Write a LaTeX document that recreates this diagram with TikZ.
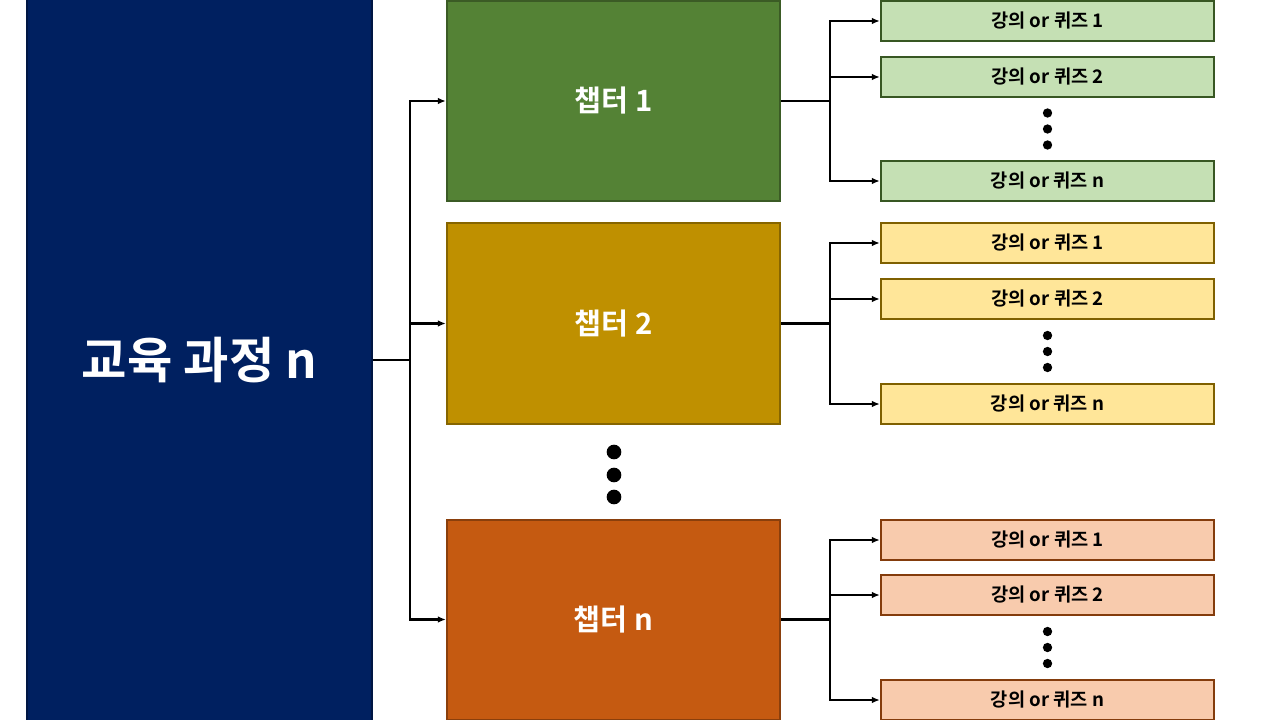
\documentclass[tikz,border=0pt]{standalone}
\usepackage{fontspec}
\setmainfont{Noto Sans CJK KR}[BoldFont={Noto Sans CJK KR Bold}]
\usetikzlibrary{arrows.meta,calc}
\definecolor{navy}{HTML}{002060}
\definecolor{cgA}{HTML}{548235}\definecolor{cgB}{HTML}{BF9000}\definecolor{cgC}{HTML}{C55A11}
\definecolor{lgA}{HTML}{C5E0B4}\definecolor{lgB}{HTML}{FFE699}\definecolor{lgC}{HTML}{F8CBAD}
\definecolor{bdA}{HTML}{385723}\definecolor{bdB}{HTML}{7F6000}\definecolor{bdC}{HTML}{843C0C}
\tikzset{
 chap/.style={draw=#1!70!black,line width=1.5pt,minimum width=250pt,minimum height=150pt,text=white,font=\bfseries\fontsize{22}{26}\selectfont},
 lec/.style={draw,line width=1.5pt,minimum width=250pt,minimum height=30.5pt,font=\bfseries\fontsize{14}{16}\selectfont},
 conn/.style={line width=2pt,-{Latex[length=6pt,width=5pt]}},
 dot/.style={circle,fill=black,inner sep=0pt,minimum size=#1}
}
\begin{document}
\begin{tikzpicture}[x=0.75pt,y=-0.75pt]
\useasboundingbox (0,0) rectangle (1280,720);
\node[draw=navy!70!black,fill=navy,line width=1pt,minimum width=258.75pt,minimum height=542pt,text=white,font=\bfseries\fontsize{37}{44}\selectfont] (main) at (199.5,360) {교육 과정 n};
\node[chap=cgA,fill=cgA] (c1) at (613.5,101) {챕터 1};
\node[chap=cgB,fill=cgB] (c2) at (613.5,323.5) {챕터 2};
\node[chap=cgC,fill=cgC] (c3) at (613.5,619.5) {챕터 n};
\coordinate (t) at (410,360);
\draw[line width=2pt] (main.east |- t) -- (t);
\foreach \c in {c1,c2,c3}{\draw[conn] (t) |- (\c.west);}
\foreach \y in {452,475,497}{\node[dot=11pt] at (614,\y) {};}
\foreach \c/\f/\b/\a/\bb/\cc [count=\i] in {c1/lgA/bdA/21/77/181, c2/lgB/bdB/243/299/404, c3/lgC/bdC/540/595/700}{
 \node[lec,fill=\f,draw=\b] (l\i a) at (1047.5,\a) {강의 or 퀴즈 1};
 \node[lec,fill=\f,draw=\b] (l\i b) at (1047.5,\bb) {강의 or 퀴즈 2};
 \node[lec,fill=\f,draw=\b] (l\i c) at (1047.5,\cc) {강의 or 퀴즈 n};
 \coordinate (b\i) at (830,0 |- \c.east);
 \draw[line width=2pt] (\c.east) -- (b\i);
 \foreach \l in {l\i a,l\i b,l\i c}{\draw[conn] (b\i) |- (\l.west);}
 \foreach \d in {-16,0,16}{\node[dot=7pt] at ($(l\i b.south)!0.5!(l\i c.north)+(0,\d*0.75pt)$) {};}
}
\end{tikzpicture}
\end{document}
